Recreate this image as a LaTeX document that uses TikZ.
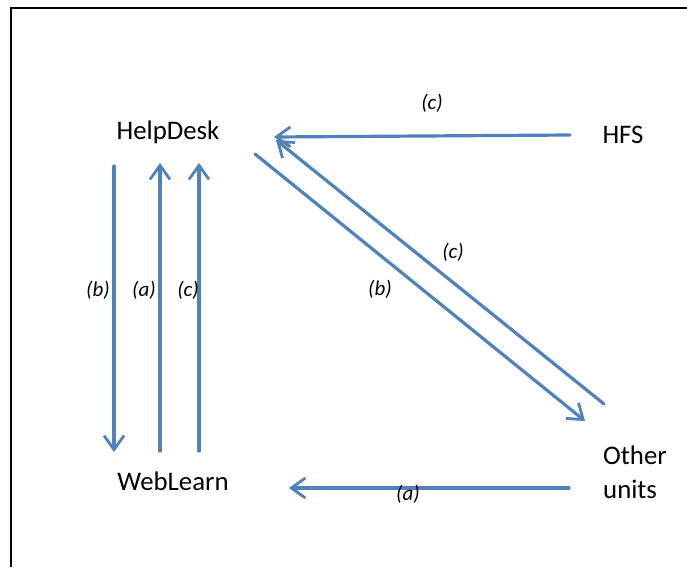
\documentclass[tikz,border=0pt]{standalone}
\usepackage{fontspec}
\setmainfont{Carlito}
\usetikzlibrary{arrows.meta}
\definecolor{arrblue}{RGB}{79,129,189}
\tikzset{
  lbl/.style={inner sep=0pt, font=\fontsize{26.8}{34}\selectfont},
  tag/.style={inner sep=0pt, font=\fontsize{21}{25}\selectfont\itshape},
  conn/.style={draw=arrblue, line width=3.2pt, line cap=round,
    -{Straight Barb[length=14pt,width=20pt,line width=2.8pt]}},
}
\begin{document}
\begin{tikzpicture}[x=1pt,y=-1pt]
\useasboundingbox (0,0) rectangle (687,567);
\draw[line width=2.5pt] (11,567) -- (11,8) -- (688,8);
% nodes
\node[lbl] (help) at (168,132) {HelpDesk};
\node[lbl] (hfs) at (623,135) {HFS};
\node[lbl] (web) at (173,481) {WebLearn};
\node[lbl, align=left, anchor=west] (other) at (603,472) {Other\\units};
% endpoints
\coordinate (b1s) at (114,166);
\coordinate (b1e) at (114,452);
\coordinate (a1s) at (160,451);
\coordinate (a1e) at (160,163);
\coordinate (c1s) at (199,451);
\coordinate (c1e) at (199,163);
\coordinate (hfsS) at (570,135);
\coordinate (hfsE) at (274,137);
\coordinate (bdS) at (255,154);
\coordinate (bdE) at (585,421);
\coordinate (cdS) at (604,404);
\coordinate (cdE) at (276,140);
\coordinate (ouS) at (569,488);
\coordinate (ouE) at (289,488);
% connectors
\draw[conn] (b1s) -- (b1e);
\draw[conn] (a1s) -- (a1e);
\draw[conn] (c1s) -- (c1e);
\draw[conn] (hfsS) -- (hfsE);
\draw[conn] (bdS) -- (bdE);
\draw[conn] (cdS) -- (cdE);
\draw[conn] (ouS) -- (ouE);
% labels
\node[tag] (tb) at (98,290) {(b)};
\node[tag] (ta) at (144,290) {(a)};
\node[tag] (tc) at (188,290) {(c)};
\node[tag] (thfs) at (432,103) {(c)};
\node[tag] (tcd) at (453,252) {(c)};
\node[tag] (tbd) at (380,289) {(b)};
\node[tag] (tou) at (408,494) {(a)};
\end{tikzpicture}
\end{document}
